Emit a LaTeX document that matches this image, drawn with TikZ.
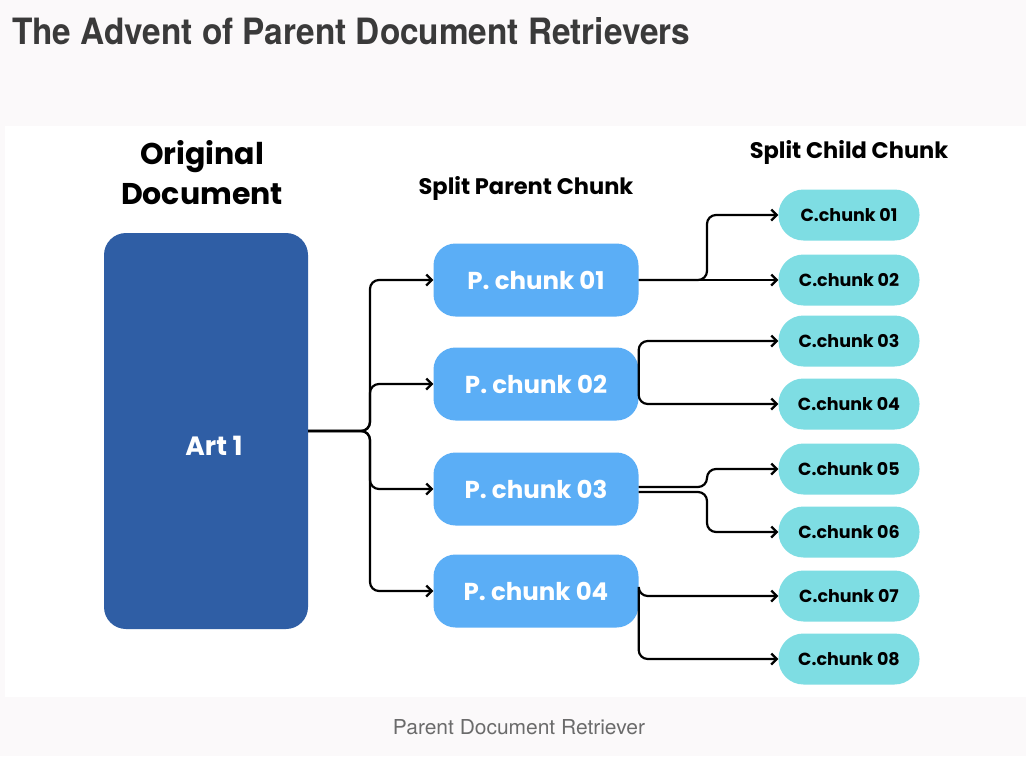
\documentclass[tikz,border=0pt]{standalone}
\usepackage{fontspec}
\setmainfont{Poppins}
\newfontfamily\heros{TeX Gyre Heros}
\usetikzlibrary{arrows.meta,positioning}
\definecolor{pagebg}{HTML}{FBF9FA}
\definecolor{titlegray}{HTML}{3A3A3A}
\definecolor{capgray}{HTML}{6B6B6B}
\definecolor{artblue}{HTML}{2F5EA5}
\definecolor{pblue}{HTML}{5BAEF6}
\definecolor{ccyan}{HTML}{7EDDE3}
\tikzset{
  docbox/.style={fill=artblue, rounded corners=22pt, minimum width=204pt, minimum height=396pt, inner sep=0pt},
  pbox/.style={fill=pblue, rounded corners=22pt, minimum width=205pt, minimum height=73pt, inner sep=0pt, text=white, font=\fontsize{24.5}{28}\selectfont\bfseries},
  cbox/.style={fill=ccyan, rounded corners=25pt, minimum width=141pt, minimum height=51pt, inner sep=0pt, text=black, font=\fontsize{17.5}{20}\selectfont\bfseries},
  head/.style={font=\fontsize{22.5}{26}\selectfont\bfseries, text=black},
  conn/.style={line width=2.2pt, rounded corners=9pt, -{Straight Barb[length=5.5pt,width=11pt,line width=2.2pt]}}
}
\begin{document}
\begin{tikzpicture}[x=1pt,y=-1pt]
\useasboundingbox (0,0) rectangle (1026,756);
\fill[pagebg] (0,0) rectangle (1026,756);
\fill[white] (5,126) rectangle (1026,697);
% title and caption
\node[anchor=south west, inner sep=0pt, text=titlegray] (title) at (12,45)
  {\resizebox{678pt}{27pt}{\heros\bfseries The Advent of Parent Document Retrievers}};
\node[anchor=south, inner sep=0pt, text=capgray] (caption) at (519,735)
  {\resizebox{252pt}{15pt}{\heros Parent Document Retriever}};
% headings
\node[align=center, font=\fontsize{30}{40}\selectfont\bfseries] (orig) at (202,173) {Original\\Document};
\node[head] (sph) at (526,188) {Split Parent Chunk};
\node[head] (sch) at (849,152) {Split Child Chunk};
% boxes
\node[docbox] (art) at (206,431) {};
\node[text=white, font=\fontsize{26.5}{30}\selectfont\bfseries] (artlabel) at (214,446) {Art 1};
\node[pbox] (p1) at (536,280) {P. chunk 01};
\node[pbox] (p2) at (536,384) {P. chunk 02};
\node[pbox] (p3) at (536,489) {P. chunk 03};
\node[pbox] (p4) at (536,591) {P. chunk 04};
\node[cbox] (c1) at (849,215) {C.chunk 01};
\node[cbox] (c2) at (849,280) {C.chunk 02};
\node[cbox] (c3) at (849,341) {C.chunk 03};
\node[cbox] (c4) at (849,404) {C.chunk 04};
\node[cbox] (c5) at (849,469) {C.chunk 05};
\node[cbox] (c6) at (849,532) {C.chunk 06};
\node[cbox] (c7) at (849,596) {C.chunk 07};
\node[cbox] (c8) at (849,659) {C.chunk 08};
% connectors
\coordinate (split) at (370,431);
\foreach \p in {p1,p2,p3,p4}{
  \draw[conn] (art.east) -- (split) |- (\p.west);
}
\coordinate (s1) at (707,280);
\draw[conn] (p1.east) -- (s1) |- (c1.west);
\draw[conn] (p1.east) -- (c2.west);
\draw[conn] (p2.east) |- (c3.west);
\draw[conn] (p2.east) |- (c4.west);
\coordinate (s5) at (707,487);
\coordinate (s6) at (707,492);
\draw[conn] ([yshift=2pt]p3.east) -- (s5) |- (c5.west);
\draw[conn] ([yshift=-3pt]p3.east) -- (s6) |- (c6.west);
\draw[conn] (p4.east) |- (c7.west);
\draw[conn] (p4.east) |- (c8.west);
\end{tikzpicture}
\end{document}
